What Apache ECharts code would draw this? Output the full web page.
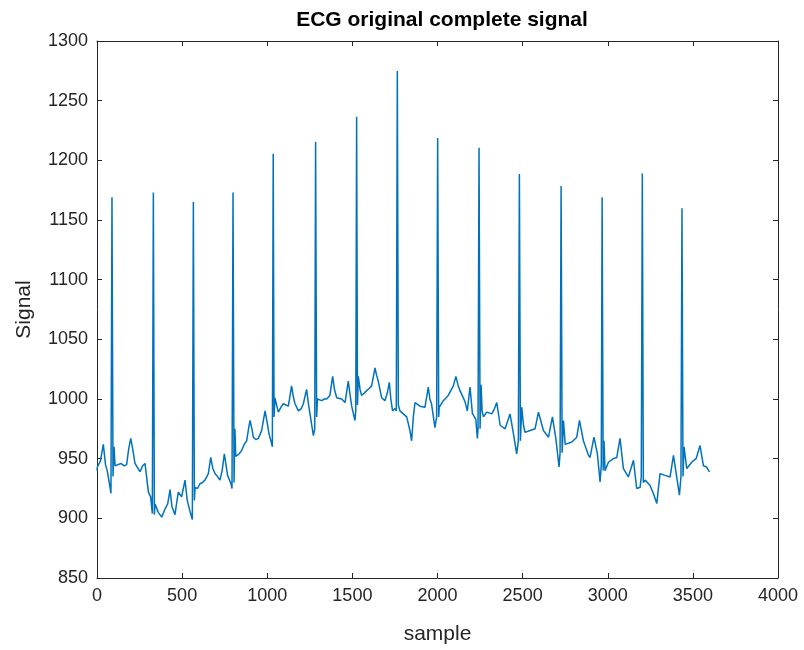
<!DOCTYPE html>
<html>
<head>
<meta charset="utf-8">
<script src="https://cdn.jsdelivr.net/npm/echarts@6/dist/echarts.min.js"></script>
<style>
  html, body { margin: 0; padding: 0; background: #fff; }
  #chart { width: 804px; height: 650px; }
</style>
</head>
<body>
<div id="chart"></div>
<script>
// ECG trace: sample index and ADC value at each traced point
const sampleIdx = [
  0, 2, 20, 37, 50, 60, 72, 82, 88, 94, 100, 106, 116, 140, 160, 174, 186, 198, 210, 223,
  253, 268, 282, 302, 315, 325, 331, 337, 341, 360, 380, 400, 415, 429, 440, 458, 470, 478, 497, 507,
  517, 530, 546, 560, 566, 572, 576, 590, 605, 620, 634, 654, 668, 680, 693,
  708, 722, 735, 748, 767, 787, 793, 799, 805, 810, 815, 820, 835, 850, 865, 879, 890, 899, 910, 918,
  933, 948, 967, 987, 1000, 1010, 1026, 1030, 1035, 1040, 1045, 1055, 1065, 1080, 1094, 1110, 1124, 1143, 1153, 1163,
  1183, 1200, 1212, 1231, 1240, 1251, 1271, 1279, 1284, 1290, 1295, 1320, 1335, 1349, 1368, 1384, 1395, 1408, 1437, 1457,
  1476, 1485, 1496, 1515, 1520, 1525, 1530, 1535, 1545, 1554, 1570, 1584, 1600, 1613, 1633, 1642, 1652, 1672, 1691, 1705,
  1717, 1726, 1736, 1750, 1758, 1764, 1770, 1779, 1799, 1819, 1838, 1848, 1858, 1868, 1897, 1926, 1946, 1955, 1965, 1985,
  1995, 2001, 2007, 2010, 2034, 2063, 2093, 2108, 2120, 2132, 2161, 2175, 2191, 2205,
  2225, 2234, 2238, 2244, 2250, 2256, 2262, 2270, 2289, 2319, 2335, 2348, 2368, 2397, 2426, 2446, 2465, 2475, 2481, 2487,
  2495, 2505, 2514, 2544, 2573, 2593, 2622, 2652, 2675, 2695, 2714, 2720, 2726, 2732, 2740, 2750, 2759, 2789, 2818, 2834,
  2857, 2886, 2896,
  2919, 2939, 2955, 2962, 2967, 2973, 2978, 2984, 3004, 3033, 3053, 3072, 3092, 3121, 3151, 3170, 3190, 3197, 3203, 3209,
  3219, 3248, 3268, 3288, 3307, 3337, 3366, 3386, 3405, 3421, 3430, 3436, 3442, 3448, 3464, 3493, 3519, 3542, 3562, 3581,
  3597
];
const signal = [
  940, 943, 948, 962, 945, 940, 930, 921, 1169, 935, 960, 944, 943, 946, 944, 945, 958, 967, 958, 946,
  939, 944, 946, 922, 918, 904, 1173, 903, 912, 905, 901, 908, 912, 924, 910, 903, 915, 922, 918, 925,
  932, 915, 906, 899, 1165, 915, 926, 925, 929, 930, 932, 937.5, 951, 942, 937.5,
  935, 932, 940, 954, 936, 929, 925, 1173, 930, 975, 952, 951, 954, 957, 962, 965, 975, 982, 975, 968,
  966, 967, 973.6, 990, 980, 971, 962.5, 960, 1205.6, 985, 1001, 995, 989, 993, 996, 995, 994, 1011, 1002, 996,
  990, 992, 996, 1008, 998, 987.5, 969.4, 975, 1215.6, 985, 1000, 998.6, 1000, 1000, 1003, 1019, 1008, 1001, 1000, 997,
  1015, 1005, 994, 982, 990, 1236.6, 995, 1019, 1008, 1003, 1005, 1007, 1009, 1011, 1026, 1020, 1015, 1001, 998.6, 1005,
  1014, 1000, 990, 992, 990, 1274.9, 995, 990, 987.5, 985, 973.6, 965, 985, 997, 994, 993, 1010, 1000, 996, 976,
  985, 1218.7, 985, 993, 998.6, 1003, 1011, 1019, 1012, 1007, 998, 990, 1010, 988,
  983, 967, 975, 1210.6, 975, 1012, 990, 985, 989, 987.5, 992, 997, 978, 975, 987.5, 971, 954, 965, 1188.5, 965,
  993, 978, 972, 973.6, 975, 989, 973.6, 968, 985, 967, 943, 955, 1178.5, 955, 982, 962, 961, 964, 968, 982,
  965, 953, 951,
  968, 954, 930.5, 945, 1169, 940, 965, 940, 947, 950, 951, 967, 941.7, 934.7, 948.6, 925, 926, 935, 1189, 930,
  932, 927.8, 920.8, 912.5, 937.5, 936, 934.7, 952.8, 934.7, 919.4, 935, 1159.8, 935, 960, 941.7, 947, 950, 961, 944, 943,
  939
];

const xTicks = { min: 0, max: 4000, step: 500 };
const yTicks = { min: 850, max: 1300, step: 50 };

const axisColor = '#262626';
const fontFamily = '"Liberation Sans", Arial, Helvetica, sans-serif';
const plain = v => String(v);

const chart = echarts.init(document.getElementById('chart'), null, { renderer: 'canvas' });

const boxAxis = {
  axisLine: { show: true, onZero: false, lineStyle: { color: axisColor, width: 1 } },
  axisTick: { show: true, inside: true, length: 5, lineStyle: { color: axisColor } },
  splitLine: { show: false }
};

chart.setOption({
  animation: false,
  backgroundColor: '#ffffff',
  title: {
    text: 'ECG original complete signal',
    left: 437,
    textAlign: 'center',
    top: 5,
    textStyle: { fontFamily, fontSize: 21, fontWeight: 'bold', color: '#000' }
  },
  grid: { left: 97, right: 26, top: 41, bottom: 72, containLabel: false },
  xAxis: [
    Object.assign({
      type: 'value', position: 'bottom',
      min: xTicks.min, max: xTicks.max, interval: xTicks.step,
      name: 'sample', nameLocation: 'middle', nameGap: 46,
      nameTextStyle: { fontFamily, fontSize: 21, color: axisColor },
      axisLabel: { fontFamily, fontSize: 18, color: axisColor, margin: 9, formatter: plain }
    }, boxAxis),
    Object.assign({
      type: 'value', position: 'top',
      min: xTicks.min, max: xTicks.max, interval: xTicks.step,
      axisLabel: { show: false }
    }, boxAxis)
  ],
  yAxis: [
    Object.assign({
      type: 'value', position: 'left',
      min: yTicks.min, max: yTicks.max, interval: yTicks.step,
      name: 'Signal', nameLocation: 'middle', nameGap: 62,
      nameTextStyle: { fontFamily, fontSize: 21, color: axisColor },
      axisLabel: { fontFamily, fontSize: 18, color: axisColor, margin: 9, formatter: plain }
    }, boxAxis),
    Object.assign({
      type: 'value', position: 'right',
      min: yTicks.min, max: yTicks.max, interval: yTicks.step,
      axisLabel: { show: false }
    }, boxAxis)
  ],
  series: [{
    type: 'line',
    xAxisIndex: 0,
    yAxisIndex: 0,
    data: sampleIdx.map((s, i) => [s, signal[i]]),
    showSymbol: false,
    smooth: false,
    lineStyle: { color: '#0072BD', width: 1.5 },
    itemStyle: { color: '#0072BD' }
  }]
});
</script>
</body>
</html>
